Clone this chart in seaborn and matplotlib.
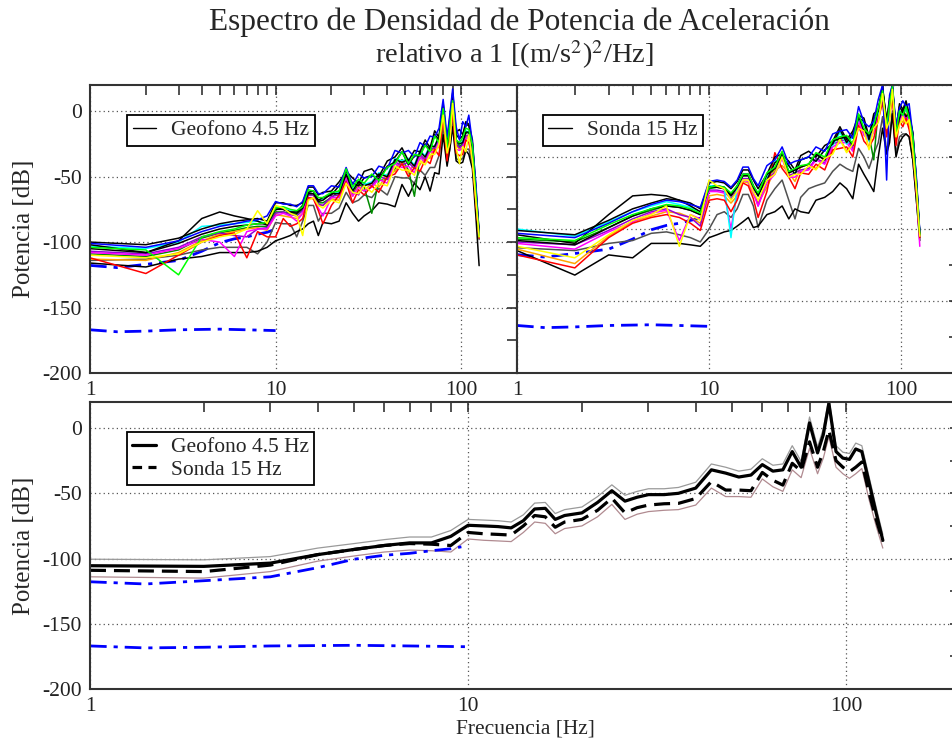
import matplotlib
matplotlib.use("Agg")
import matplotlib.pyplot as plt
import seaborn as sns
from matplotlib.lines import Line2D
from matplotlib.ticker import NullFormatter

# --- frequency grid shared by every curve (Hz) --------------------------------
freq = [1, 2, 3, 4, 5, 6, 7, 8, 9, 10, 11, 12, 13, 14, 15, 16, 17, 18,
        20, 22, 24, 26, 28, 30,
        33, 36, 40, 44, 48, 52, 56, 60, 64, 68, 72, 76,
        80, 84, 87, 90, 94, 98, 102, 106, 110, 115, 120, 125]

# --- Geofono 4.5 Hz: individual spectra (dB) ----------------------------------
geo_black_a = [-100, -102, -97, -90, -86, -84, -83, -82, -84, -70, -70, -72, -72, -70, -58, -58, -64, -62,
               -61, -54, -46, -51, -55, -46,
               -44, -50, -38, -35, -28, -38, -30, -31, -22, -28, -15, -20,
               6, -24, -4, 14, -16, -14, -18, -8, -10, -22, -58, -92]
geo_blue = [-101, -104, -99, -92, -88, -86, -84, -83, -80, -69, -71, -71, -73, -69, -57, -57, -63, -63,
            -57, -58, -43, -56, -48, -51,
            -50, -42, -44, -30, -32, -30, -35, -24, -27, -19, -20, -13,
            9, -20, -2, 17, -12, -22, -8, -12, -3, -24, -55, -94]
geo_green = [-104, -106, -125, -96, -92, -90, -87, -86, -85, -74, -73, -75, -76, -73, -60, -61, -66, -66,
             -62, -61, -44, -58, -52, -55,
             -48, -53, -43, -40, -31, -40, -33, -34, -26, -31, -19, -24,
             2, -28, -10, 8, -22, -24, -20, -13, -14, -26, -62, -96]
geo_red = [-112, -124, -110, -100, -95, -93, -112, -92, -96, -96, -82, -88, -86, -82, -66, -67, -76, -86,
           -72, -64, -54, -70, -60, -64,
           -57, -62, -50, -48, -40, -50, -43, -46, -37, -40, -29, -34,
           -4, -38, -16, -2, -32, -34, -33, -22, -24, -36, -70, -97]
geo_yellow = [-110, -112, -109, -100, -96, -94, -90, -76, -86, -72, -74, -78, -80, -95, -68, -66, -72, -74,
              -68, -70, -55, -62, -63, -57,
              -62, -55, -57, -42, -45, -45, -49, -38, -41, -33, -33, -25,
              -3, -32, -24, 6, -28, -40, -27, -31, -18, -38, -68, -96]
geo_magenta = [-108, -110, -105, -98, -100, -111, -92, -90, -90, -80, -78, -80, -84, -78, -66, -66, -74, -80,
               -66, -66, -50, -65, -58, -61,
               -58, -52, -55, -40, -43, -42, -47, -35, -39, -31, -31, -23,
               -6, -30, -21, 1, -29, -30, -28, -21, -20, -31, -66, -96]
geo_cyan = [-103, -105, -100, -88, -87, -86, -85, -84, -86, -73, -74, -76, -77, -72, -62, -61, -68, -67,
            -62, -62, -47, -60, -53, -56,
            -54, -47, -49, -36, -38, -36, -41, -30, -34, -26, -27, -19,
            0, -24, -17, 7, -22, -25, -23, -15, -16, -26, -63, -95]
geo_orange = [-113, -114, -108, -99, -94, -92, -90, -89, -91, -79, -80, -81, -82, -78, -67, -66, -72, -72,
              -67, -68, -52, -65, -57, -61,
              -55, -58, -48, -46, -38, -47, -40, -41, -34, -36, -26, -28,
              -5, -33, -14, 2, -26, -29, -28, -20, -19, -32, -67, -96]
geo_violet = [-107, -109, -104, -96, -93, -95, -96, -90, -89, -78, -77, -79, -80, -76, -64, -64, -71, -72,
              -65, -64, -53, -60, -64, -55,
              -57, -50, -52, -39, -41, -39, -44, -33, -37, -29, -28, -21,
              -3, -26, -19, 4, -25, -28, -26, -19, -18, -29, -64, -95]
geo_green4 = [-109, -111, -106, -97, -93, -91, -89, -88, -88, -77, -77, -78, -79, -75, -64, -64, -70, -70,
              -66, -61, -51, -63, -56, -58,
              -78, -53, -52, -44, -37, -45, -65, -35, -38, -30, -29, -22,
              -2, -30, -12, 5, -23, -27, -25, -17, -16, -28, -63, -95]
geo_black_low = [-116, -119, -113, -111, -108, -108, -108, -107, -104, -99, -97, -95, -92, -90, -86, -84, -95, -85,
                 -86, -84, -70, -78, -84, -80,
                 -76, -70, -71, -73, -56, -65, -55, -60, -50, -61, -47, -48,
                 -18, -42, -28, -12, -38, -40, -39, -30, -33, -44, -80, -118]
geo_black_hump = [-102, -108, -99, -82, -77, -80, -82, -84, -87, -74, -75, -77, -77, -72, -62, -61, -68, -66,
                  -64, -57, -49, -55, -57, -51,
                  -49, -52, -42, -39, -31, -41, -34, -34, -25, -30, -18, -22,
                  4, -26, -7, 11, -18, -21, -19, -10, -11, -25, -60, -94]
geo_black_mid = [-105, -108, -101, -94, -90, -88, -87, -86, -86, -75, -75, -77, -78, -74, -63, -63, -69, -68,
                 -63, -63, -48, -61, -54, -57,
                 -55, -48, -50, -37, -39, -37, -42, -31, -35, -27, -27, -19,
                 -1, -24, -16, 8, -22, -25, -24, -16, -16, -27, -62, -95]
geo_gray = [-114, -113, -110, -106, -104, -104, -104, -109, -100, -85, -86, -86, -96, -84, -72, -72, -84, -78,
            -78, -74, -62, -70, -68, -64,
            -66, -59, -64, -50, -51, -51, -55, -45, -49, -43, -43, -34,
            -12, -40, -29, -7, -36, -38, -36, -29, -29, -40, -74, -98]

# --- Sonda 15 Hz: individual spectra (dB) -------------------------------------
son_black_a = [-101, -104, -94, -86, -82, -79, -80, -82, -86, -68, -67, -68, -72, -67, -59, -59, -66, -72,
               -62, -50, -48, -53, -59, -49,
               -46, -50, -42, -39, -29, -38, -32, -21, -23, -36, -20, -17,
               -2, -25, -9, 0, -31, -13, -17, -11, -20, -33, -66, -103]
son_blue = [-103, -106, -96, -88, -83, -80, -81, -83, -85, -67, -66, -67, -71, -66, -57, -57, -65, -70,
            -56, -52, -43, -55, -53, -52,
            -50, -43, -46, -34, -32, -31, -37, -15, -26, -29, -25, -10,
            0, -66, -7, 0, -28, -16, -11, -15, -13, -35, -64, -102]
son_green = [-106, -108, -97, -90, -86, -83, -84, -86, -89, -71, -70, -71, -75, -70, -62, -62, -70, -75,
             -61, -57, -46, -60, -58, -56,
             -55, -47, -50, -38, -36, -35, -41, -20, -30, -34, -28, -16,
             -4, -29, -13, -1, -34, -18, -21, -15, -23, -36, -69, -104]
son_red = [-118, -127, -106, -96, -92, -90, -92, -96, -101, -80, -79, -80, -88, -80, -68, -70, -79, -92,
           -74, -47, -58, -64, -72, -61,
           -62, -55, -59, -45, -44, -43, -50, -28, -39, -43, -37, -24,
           -12, -36, -21, -9, -42, -25, -29, -23, -31, -44, -74, -106]
son_yellow = [-112, -120, -104, -94, -90, -84, -112, -90, -94, -66, -70, -72, -80, -74, -66, -66, -74, -80,
              -66, -62, -50, -64, -62, -62,
              -56, -59, -51, -48, -38, -47, -41, -30, -32, -45, -30, -26,
              -6, -30, -25, -3, -36, -28, -22, -27, -24, -46, -72, -105]
son_magenta = [-110, -114, -102, -95, -89, -87, -108, -90, -93, -74, -74, -75, -100, -75, -66, -67, -75, -84,
               -68, -62, -51, -64, -64, -60,
               -59, -52, -55, -43, -40, -40, -46, -25, -35, -38, -33, -20,
               -8, -28, -23, -5, -34, -26, -20, -25, -22, -44, -73, -112]
son_cyan = [-100, -105, -95, -88, -84, -81, -83, -85, -88, -70, -70, -71, -106, -70, -62, -62, -70, -76,
            -64, -53, -50, -56, -62, -52,
            -50, -53, -45, -42, -33, -41, -36, -24, -26, -39, -25, -20,
            -2, -30, -14, -1, -35, -18, -21, -16, -22, -36, -70, -103]
son_orange = [-114, -124, -105, -95, -91, -88, -89, -92, -96, -77, -76, -77, -82, -77, -67, -68, -76, -82,
              -71, -59, -56, -61, -67, -57,
              -55, -58, -50, -47, -37, -46, -40, -29, -31, -44, -29, -25,
              -5, -34, -19, -5, -39, -23, -26, -20, -28, -41, -72, -104]
son_violet = [-109, -111, -101, -93, -88, -86, -90, -92, -98, -73, -73, -74, -79, -73, -65, -65, -73, -84,
              -65, -61, -50, -63, -61, -59,
              -58, -51, -54, -41, -39, -38, -44, -23, -33, -37, -31, -19,
              -7, -27, -22, -4, -33, -25, -19, -24, -21, -43, -71, -104]
son_green4 = [-107, -109, -99, -91, -87, -84, -85, -87, -90, -72, -71, -72, -77, -71, -63, -63, -71, -77,
              -63, -59, -48, -61, -59, -57,
              -55, -48, -52, -39, -38, -36, -42, -21, -31, -35, -52, -17,
              -3, -30, -15, -2, -35, -19, -22, -16, -24, -37, -70, -104]
son_black_low = [-115, -132, -118, -120, -110, -110, -110, -111, -112, -106, -104, -102, -101, -98, -95, -92, -99, -98,
                 -90, -88, -84, -93, -86, -88,
                 -89, -80, -78, -74, -68, -72, -79, -55, -62, -68, -74, -50,
                 -30, -48, -40, -20, -50, -40, -36, -34, -36, -52, -80, -108]
son_black_hump = [-104, -110, -90, -77, -76, -77, -80, -84, -88, -71, -70, -71, -76, -70, -62, -62, -70, -76,
                  -66, -54, -50, -56, -62, -52,
                  -50, -53, -45, -41, -31, -40, -34, -23, -25, -38, -22, -18,
                  -1, -27, -11, -1, -33, -15, -19, -13, -21, -34, -67, -103]
son_black_mid = [-108, -111, -99, -91, -86, -84, -85, -87, -90, -71, -71, -72, -77, -71, -63, -63, -71, -77,
                 -62, -58, -47, -61, -59, -57,
                 -55, -48, -52, -39, -37, -36, -42, -21, -32, -35, -30, -17,
                 -4, -25, -20, -2, -31, -23, -17, -22, -19, -41, -69, -104]
son_gray = [-113, -115, -110, -108, -103, -102, -104, -106, -109, -100, -90, -88, -92, -86, -76, -76, -84, -99,
            -80, -72, -66, -80, -93, -78,
            -72, -70, -68, -60, -55, -58, -60, -44, -50, -58, -48, -40,
            -22, -46, -36, -18, -48, -36, -34, -34, -36, -52, -80, -106]

# --- averages and spread (bottom panel) ---------------------------------------
geo_mean = [-105.5, -106, -103.5, -97, -93, -90, -88, -88, -83, -74.5, -75, -75.5, -76.5, -71, -62, -61.5, -70, -67,
            -65, -57, -48, -56, -53, -51,
            -51, -50, -46, -32, -34.5, -37.5, -36, -28, -33, -32, -18, -30,
            4, -19, -5, 19, -18, -23, -24, -16, -18, -42, -65, -86]
son_mean = [-109, -110, -105, -97, -93, -90, -88.5, -89, -90, -80, -81, -81.5, -82, -75, -67, -68, -76, -72,
            -70, -63, -53.7, -65, -61, -59,
            -58, -57.7, -54, -41, -47.5, -47.5, -48, -34, -40, -43.7, -27, -33,
            -10.5, -30, -18, -1.5, -25, -30, -33.5, -30, -26, -50, -70, -87]
geo_upper = [-100.5, -101, -98.5, -92, -88.5, -85.5, -83.5, -83.5, -78.5, -70, -70.5, -71, -72, -66.5, -57.5, -57, -65.5, -62.5,
             -60.5, -52.5, -43.5, -51.5, -48.5, -46.5,
             -46.5, -45.5, -41.5, -27.5, -30, -33, -31.5, -23.5, -28.5, -27.5, -13.5, -25.5,
             8.5, -14.5, -0.5, 23, -13.5, -18.5, -19.5, -11.5, -13.5, -37.5, -60.5, -81.5]
son_lower = [-114, -115, -110, -102, -98, -95, -93.5, -94, -95, -85, -86, -86.5, -87, -80, -72, -73, -81, -77,
             -75, -68, -58.5, -70, -66, -64,
             -63, -62.5, -59, -46, -52.5, -52.5, -53, -39, -45, -48.5, -32, -38,
             -15.5, -35, -23, -6.5, -30, -35, -38.5, -35, -31, -55, -75, -92]

# --- reference noise models (blue dash-dot) -----------------------------------
high_model_freq = [1, 1.4, 2, 3, 4, 5, 6, 7, 8, 9, 9.6]
high_model_db = [-117.8, -119.5, -117, -114, -107, -100.5, -97.5, -96, -94, -92.5, -91]
low_model_freq = [1, 1.4, 2, 3, 5, 7, 10]
low_model_db = [-167, -168.5, -168, -167, -166.5, -167, -167.6]

geo_traces = [geo_gray, geo_black_low, geo_green4, geo_orange, geo_violet, geo_magenta, geo_cyan,
              geo_red, geo_black_hump, geo_black_mid, geo_black_a, geo_blue, geo_green, geo_yellow]
son_traces = [son_gray, son_black_low, son_green4, son_orange, son_violet, son_magenta, son_cyan,
              son_red, son_black_hump, son_black_mid, son_black_a, son_blue, son_green, son_yellow]
trace_colors = ["#505050", "black", "#008b00", "#ffa500", "#9400d3", "#ff00ff", "#00ffff",
                "#ff0000", "black", "black", "black", "#0000ff", "#00ff00", "#ffff00"]

# --- style -------------------------------------------------------------------
sns.set_style("white")
plt.rcParams["font.family"] = ["Liberation Serif", "DejaVu Serif"]
plt.rcParams["mathtext.fontset"] = "stix"
plt.rcParams["axes.unicode_minus"] = False

W, H = 953, 743
fig = plt.figure(figsize=(W / 100, H / 100), dpi=100)


def px_axes(left, top, right, bottom):
    return fig.add_axes([left / W, 1 - bottom / H, (right - left) / W, (bottom - top) / H])


ax1 = px_axes(90, 85, 517, 373)
ax2 = px_axes(517, 85, 959, 373)
ax3 = px_axes(90, 402, 960, 689)

minor_x = [2, 3, 4, 5, 6, 7, 8, 9, 20, 30, 40, 50, 60, 70, 80, 90]
dashdot = (0, (6, 2.5, 1.5, 2.5))


def style_axes(ax, ylim, show_ylabels):
    ax.set_xscale("log")
    ax.set_xlim(1, 200)
    ax.set_ylim(*ylim)
    ax.set_xticks([1, 10, 100], labels=["1", "10", "100"])
    ax.set_xticks(minor_x, minor=True)
    ax.xaxis.set_minor_formatter(NullFormatter())
    ax.set_yticks(list(range(-200, 1, 50)))
    ax.set_yticks(list(range(-175, 0, 50)), minor=True)
    if not show_ylabels:
        ax.set_yticklabels([])
    ax.tick_params(which="both", direction="in", top=True, right=True,
                   labelsize=15.5, colors="#222222")
    ax.tick_params(which="major", length=7, width=1.1, pad=6)
    ax.tick_params(which="minor", length=7, width=1.1)
    ax.grid(True, which="major", linestyle=(0, (1, 2.5)), color="#555555", linewidth=0.9)
    for sp in ax.spines.values():
        sp.set_color("#333333")
        sp.set_linewidth(1.5)
    ax.set_xlabel("")
    ax.set_ylabel("")


def draw_models(ax):
    sns.lineplot(x=high_model_freq, y=high_model_db, ax=ax, color="#0000ff",
                 lw=2.0, linestyle=dashdot, estimator=None)
    sns.lineplot(x=low_model_freq, y=low_model_db, ax=ax, color="#0000ff",
                 lw=2.0, linestyle=dashdot, estimator=None)


def make_legend(ax, handles, x, y):
    leg = ax.legend(handles=handles, loc="upper left", bbox_to_anchor=(x, y),
                    borderaxespad=0, fontsize=15.5, frameon=True, fancybox=False,
                    borderpad=0.25, handlelength=1.1, handletextpad=0.7, labelspacing=0.1)
    leg.get_frame().set_edgecolor("black")
    leg.get_frame().set_linewidth(1.3)
    leg.get_frame().set_alpha(1)


# --- top left: Geofono -------------------------------------------------------
draw_models(ax1)
for vals, c in zip(geo_traces, trace_colors):
    sns.lineplot(x=freq, y=vals, ax=ax1, color=c, lw=1.1, estimator=None)
style_axes(ax1, (-200, 20), True)
ax1.set_ylabel("Potencia [dB]", fontsize=18)
ax1.yaxis.set_label_coords(-0.128, 0.5)
make_legend(ax1, [Line2D([], [], color="black", lw=1.0, label="Geofono 4.5 Hz")], 0.087, 0.896)

# --- top right: Sonda --------------------------------------------------------
draw_models(ax2)
for vals, c in zip(son_traces, trace_colors):
    sns.lineplot(x=freq, y=vals, ax=ax2, color=c, lw=1.1, estimator=None)
style_axes(ax2, (-200, 0), False)
make_legend(ax2, [Line2D([], [], color="black", lw=1.0, label="Sonda 15 Hz")], 0.059, 0.896)

# --- bottom: averages --------------------------------------------------------
sns.lineplot(x=freq, y=geo_upper, ax=ax3, color="#9a9a9a", lw=0.9, estimator=None)
sns.lineplot(x=freq, y=son_lower, ax=ax3, color="#b08a90", lw=0.9, estimator=None)
draw_models(ax3)
sns.lineplot(x=freq, y=son_mean, ax=ax3, color="black", lw=2.3,
             linestyle=(0, (5, 2.5)), estimator=None)
sns.lineplot(x=freq, y=geo_mean, ax=ax3, color="black", lw=2.3, estimator=None)
style_axes(ax3, (-200, 20), True)
ax3.set_ylabel("Potencia [dB]", fontsize=18)
ax3.yaxis.set_label_coords(-0.063, 0.5)
ax3.set_xlabel("Frecuencia [Hz]", fontsize=15.5, labelpad=2)
make_legend(ax3, [Line2D([], [], color="black", lw=2.3, label="Geofono 4.5 Hz"),
                  Line2D([], [], color="black", lw=2.3, linestyle=(0, (3, 2)), label="Sonda 15 Hz")],
            0.0425, 0.8955)

# --- titles ------------------------------------------------------------------
fig.text(519.5 / W, 1 - 22 / H, "Espectro de Densidad de Potencia de Aceleración",
         ha="center", va="center", fontsize=22.5)
fig.text(514 / W, 1 - 55 / H, r"relativo a 1 [(m/s$^2$)$^2$/Hz]",
         ha="center", va="center", fontsize=20.5)

fig.savefig("out.png", dpi=100)
